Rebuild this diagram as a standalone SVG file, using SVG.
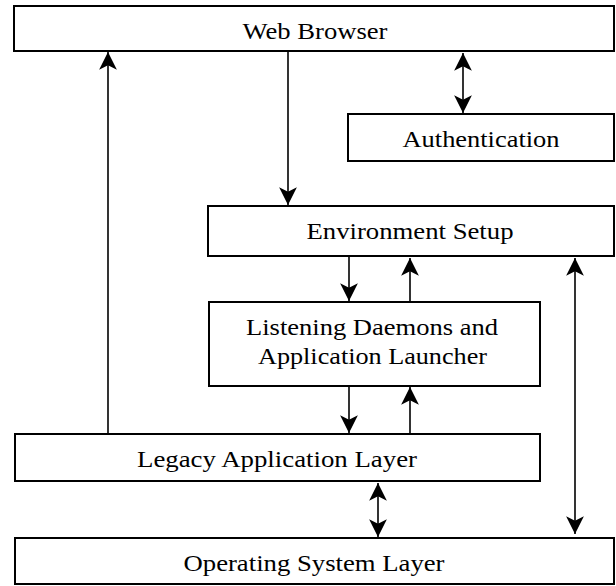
<svg xmlns="http://www.w3.org/2000/svg" width="616" height="586" viewBox="0 0 616 586">
<style>
.box{fill:#fff;stroke:#000;stroke-width:2}
.lbl{font-family:"Liberation Serif","Times New Roman",serif;font-size:23px;fill:#000;text-anchor:middle}
.con{stroke:#000;stroke-width:1.6;fill:none}
</style>
<defs>
<marker id="ah" markerUnits="userSpaceOnUse" markerWidth="20" markerHeight="20" viewBox="-17 -9 18 18" refX="0" refY="0" orient="auto-start-reverse">
<path d="M0,0 L-16,-8 L-12,0 L-16,8 Z" fill="#000"/>
</marker>
</defs>
<rect width="616" height="586" fill="#fff"/>
<g id="connectors">
<line class="con" x1="108" y1="435" x2="108" y2="52" marker-end="url(#ah)"/>
<line class="con" x1="288" y1="52" x2="288" y2="205" marker-end="url(#ah)"/>
<line class="con" x1="463" y1="53" x2="463" y2="113" marker-start="url(#ah)" marker-end="url(#ah)"/>
<line class="con" x1="349" y1="257" x2="349" y2="301" marker-end="url(#ah)"/>
<line class="con" x1="410" y1="302" x2="410" y2="258" marker-end="url(#ah)"/>
<line class="con" x1="349" y1="386" x2="349" y2="433" marker-end="url(#ah)"/>
<line class="con" x1="410" y1="434" x2="410" y2="387" marker-end="url(#ah)"/>
<line class="con" x1="378" y1="483" x2="378" y2="537" marker-start="url(#ah)" marker-end="url(#ah)"/>
<line class="con" x1="575" y1="258" x2="575" y2="534" marker-start="url(#ah)" marker-end="url(#ah)"/>
</g>
<g id="web-browser">
<rect class="box" x="14" y="6" width="600" height="45"/>
<text class="lbl" x="315" y="39" textLength="145" lengthAdjust="spacingAndGlyphs">Web Browser</text>
</g>
<g id="authentication">
<rect class="box" x="348" y="114" width="266" height="47"/>
<text class="lbl" x="481" y="147" textLength="157" lengthAdjust="spacingAndGlyphs">Authentication</text>
</g>
<g id="environment-setup">
<rect class="box" x="208" y="206" width="406" height="50"/>
<text class="lbl" x="410" y="239" textLength="207" lengthAdjust="spacingAndGlyphs">Environment Setup</text>
</g>
<g id="listening-daemons">
<rect class="box" x="209" y="302" width="331" height="84"/>
<text class="lbl" x="372" y="335" textLength="252" lengthAdjust="spacingAndGlyphs">Listening Daemons and</text>
<text class="lbl" x="372.5" y="364" textLength="229" lengthAdjust="spacingAndGlyphs">Application Launcher</text>
</g>
<g id="legacy-application-layer">
<rect class="box" x="15" y="434" width="525" height="47"/>
<text class="lbl" x="277" y="467" textLength="280" lengthAdjust="spacingAndGlyphs">Legacy Application Layer</text>
</g>
<g id="operating-system-layer">
<rect class="box" x="15" y="538" width="599" height="46"/>
<text class="lbl" x="314" y="571" textLength="261" lengthAdjust="spacingAndGlyphs">Operating System Layer</text>
</g>
</svg>
